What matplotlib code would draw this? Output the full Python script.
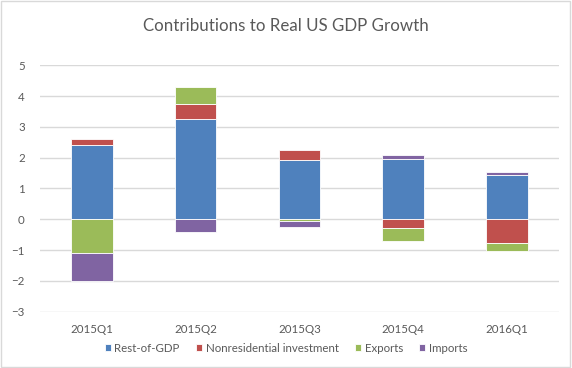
import numpy as np
import matplotlib.pyplot as plt

quarters = ['2015Q1', '2015Q2', '2015Q3', '2015Q4', '2016Q1']
rest_of_gdp = [2.40, 3.24, 1.93, 1.95, 1.45]
nonres_inv = [0.22, 0.50, 0.33, -0.28, -0.77]
exports = [-1.11, 0.57, -0.07, -0.43, -0.26]
imports = [-0.90, -0.42, -0.18, 0.15, 0.07]

series = [
    ('Rest-of-GDP', rest_of_gdp, '#4F81BD'),
    ('Nonresidential investment', nonres_inv, '#C0504D'),
    ('Exports', exports, '#9BBB59'),
    ('Imports', imports, '#8064A2'),
]

plt.rcParams['font.family'] = ['Lato', 'DejaVu Sans']

fig = plt.figure(figsize=(5.72, 3.68), dpi=100)
ax = fig.add_axes([0.07, 0.153, 0.907, 0.6696])

x = np.arange(len(quarters))
pos_base = np.zeros(len(quarters))
neg_base = np.zeros(len(quarters))
for name, vals, color in series:
    vals = np.array(vals)
    bottom = np.where(vals >= 0, pos_base, neg_base)
    ax.bar(x, vals, 0.4, bottom=bottom, color=color, label=name,
           edgecolor='white', linewidth=0.6, zorder=3)
    pos_base += np.where(vals >= 0, vals, 0)
    neg_base += np.where(vals < 0, vals, 0)

ax.set_xlim(-0.5, len(quarters) - 0.5)
ax.set_ylim(-3, 5)
ax.set_yticks(range(-3, 6))
ax.set_xticks(x)
ax.set_xticklabels(quarters)
ax.grid(axis='y', color='#D9D9D9', linewidth=1, zorder=0)
for s in ax.spines.values():
    s.set_visible(False)
ax.tick_params(length=0, colors='#595959', labelsize=8.3)
ax.tick_params(axis='y', pad=11)
ax.tick_params(axis='x', pad=9)

fig.text(0.5, 0.93, 'Contributions to Real US GDP Growth', ha='center',
         va='center', fontsize=12.2, color='#595959')

fig.legend(loc='center', bbox_to_anchor=(0.5, 0.054), ncol=4, frameon=False,
           fontsize=8.3, handlelength=0.55, handleheight=0.55, handletextpad=0.3,
           columnspacing=1.4, labelcolor='#595959')

fig.patches.append(plt.Rectangle((0.002, 0.003), 0.995, 0.994, transform=fig.transFigure,
                                 fill=False, edgecolor='#D9D9D9', linewidth=1))

fig.savefig('out.png', dpi=100)
